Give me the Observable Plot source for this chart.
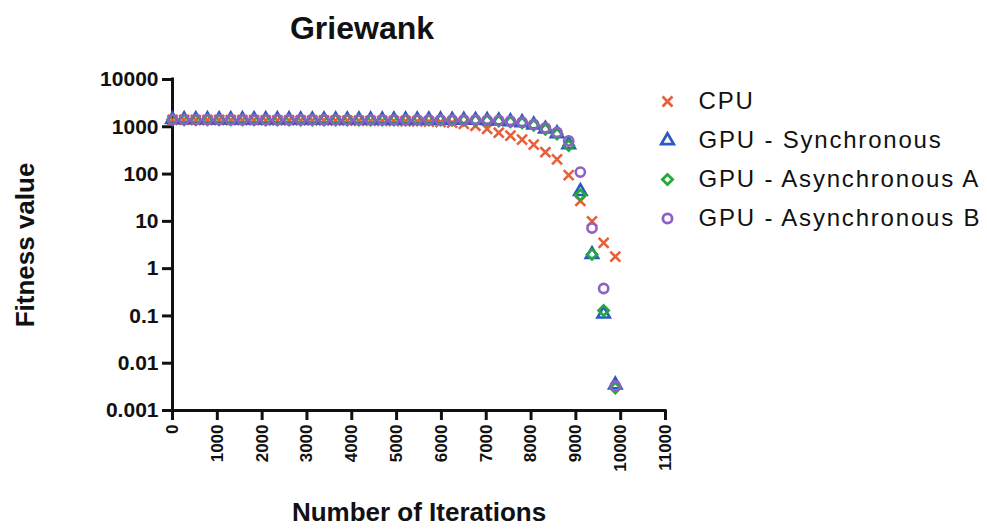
<!DOCTYPE html>
<html>
<head>
<meta charset="utf-8">
<script src="https://cdn.jsdelivr.net/npm/d3@7"></script>
<script src="https://cdn.jsdelivr.net/npm/@observablehq/plot@0.6"></script>
<style>
  html, body { margin: 0; padding: 0; background: #fff; }
  #wrap { position: relative; width: 987px; height: 530px; overflow: hidden; font-family: "Liberation Sans", Arial, sans-serif; }
  #chart { position: absolute; left: 0; top: 0; }
  #legend { position: absolute; left: 640px; top: 80px; }
  #title { position: absolute; left: 212px; width: 300px; top: 11px; line-height: 34px; text-align: center; font-weight: bold; font-size: 32px; color: #111; }
  #chart g[aria-label="x-axis tick label"] text, #chart g[aria-label="y-axis tick label"] text { font-weight: bold; }
  #legend text { letter-spacing: 1.8px; }
</style>
</head>
<body>
<div id="wrap">
  <div id="chart"></div>
  <div id="legend"></div>
  <div id="title">Griewank</div>
</div>
<script>
const seriesNames = ["CPU", "GPU - Synchronous", "GPU - Asynchronous A", "GPU - Asynchronous B"];
const seriesColors = ["#e8603a", "#2a5bc0", "#22a83c", "#8e5fc4"];
const seriesSymbols = ["times", "triangle", "diamond2", "circle"];

const iterations = [0, 260, 520, 780, 1040, 1300, 1560, 1820, 2080, 2340, 2600, 2860, 3120, 3380, 3640, 3900, 4160, 4420, 4680, 4940, 5200, 5460, 5720, 5980, 6240, 6500, 6760, 7020, 7280, 7540, 7800, 8060, 8320, 8580, 8840, 9100, 9360, 9620, 9880];

const cpu = [1400, 1400, 1390, 1390, 1390, 1380, 1380, 1380, 1370, 1370, 1370, 1360, 1360, 1360, 1350, 1350, 1340, 1340, 1330, 1320, 1310, 1300, 1280, 1260, 1220, 1150, 1050, 900, 750, 650, 535, 420, 290, 205, 95, 27, 10, 3.5, 1.8];
const gpuSync = [1430, 1430, 1430, 1420, 1420, 1420, 1420, 1420, 1420, 1420, 1420, 1410, 1410, 1410, 1410, 1410, 1410, 1400, 1400, 1400, 1400, 1400, 1400, 1400, 1390, 1390, 1380, 1370, 1340, 1290, 1230, 1100, 900, 720, 420, 43, 2.0, 0.11, 0.0035];
const gpuAsyncA = [1400, 1400, 1400, 1400, 1400, 1400, 1400, 1400, 1390, 1390, 1390, 1390, 1390, 1390, 1390, 1390, 1390, 1380, 1380, 1380, 1380, 1380, 1380, 1380, 1370, 1370, 1360, 1350, 1320, 1270, 1210, 1080, 880, 700, 400, 36, 2.0, 0.13, 0.003];
const gpuAsyncB = [1420, 1420, 1420, 1420, 1420, 1410, 1410, 1410, 1410, 1410, 1410, 1410, 1410, 1410, 1400, 1400, 1400, 1400, 1400, 1400, 1400, 1400, 1400, 1390, 1390, 1390, 1390, 1380, 1360, 1310, 1250, 1120, 950, 760, 500, 110, 7.2, 0.38, 0.0033];

const xTicks = [0, 1000, 2000, 3000, 4000, 5000, 6000, 7000, 8000, 9000, 10000, 11000];
const yTicks = [0.001, 0.01, 0.1, 1, 10, 100, 1000, 10000];
const yTickLabels = ["0.001", "0.01", "0.1", "1", "10", "100", "1000", "10000"];

const seriesValues = [cpu, gpuSync, gpuAsyncA, gpuAsyncB];
const rows = [];
seriesNames.forEach((name, s) => {
  iterations.forEach((it, i) => rows.push({series: name, iter: it, value: seriesValues[s][i]}));
});

const font = "'Liberation Sans', Arial, sans-serif";

const chart = Plot.plot({
  width: 987,
  height: 530,
  marginLeft: 172,
  marginRight: 322,
  marginTop: 79,
  marginBottom: 120,
  style: {fontFamily: font, background: "transparent", color: "#111", overflow: "visible"},
  x: {domain: [0, 11000]},
  y: {type: "log", domain: [0.001, 10000]},
  symbol: {domain: seriesNames, range: seriesSymbols},
  color: {domain: seriesNames, range: seriesColors},
  marks: [
    Plot.axisX({ticks: xTicks, tickFormat: d => String(d), tickRotate: -90, tickSize: 10, tickPadding: 4, strokeWidth: 3, fontSize: 17, fontWeight: "bold", label: null}),
    Plot.axisY({ticks: yTicks, tickFormat: d => yTickLabels[yTicks.indexOf(d)], tickSize: 10, tickPadding: 4, strokeWidth: 3, fontSize: 21, fontWeight: "bold", label: null}),
    Plot.ruleX([0], {strokeWidth: 3, stroke: "#111", strokeLinecap: "square"}),
    Plot.ruleY([0.001], {strokeWidth: 3, stroke: "#111", strokeLinecap: "square"}),
    Plot.dot(rows, {x: "iter", y: "value", symbol: "series", stroke: "series", strokeWidth: 2.6, r: 4.6, clip: false}),
    Plot.text(["Fitness value"], {frameAnchor: "left", dx: -147, rotate: -90, textAnchor: "middle", lineAnchor: "middle", fontSize: 26, fontWeight: "bold", fill: "#111"}),
    Plot.text(["Number of Iterations"], {frameAnchor: "bottom", dy: 102, textAnchor: "middle", lineAnchor: "middle", fontSize: 26, fontWeight: "bold", fill: "#111"})
  ]
});
document.getElementById("chart").appendChild(chart);

const legend = Plot.plot({
  width: 347,
  height: 160,
  marginLeft: 0,
  marginRight: 0,
  marginTop: 20,
  marginBottom: 22,
  style: {fontFamily: font, background: "transparent", color: "#111"},
  y: {type: "point", domain: seriesNames, padding: 0, axis: null},
  symbol: {domain: seriesNames, range: seriesSymbols},
  color: {domain: seriesNames, range: seriesColors},
  marks: [
    Plot.dot(seriesNames, {y: d => d, frameAnchor: "left", dx: 27, symbol: d => d, stroke: d => d, r: 4.6, strokeWidth: 2.8}),
    Plot.text(seriesNames, {y: d => d, text: d => d, frameAnchor: "left", dx: 58, textAnchor: "start", fontSize: 24, fill: "#111"})
  ]
});
document.getElementById("legend").appendChild(legend);
</script>
</body>
</html>
